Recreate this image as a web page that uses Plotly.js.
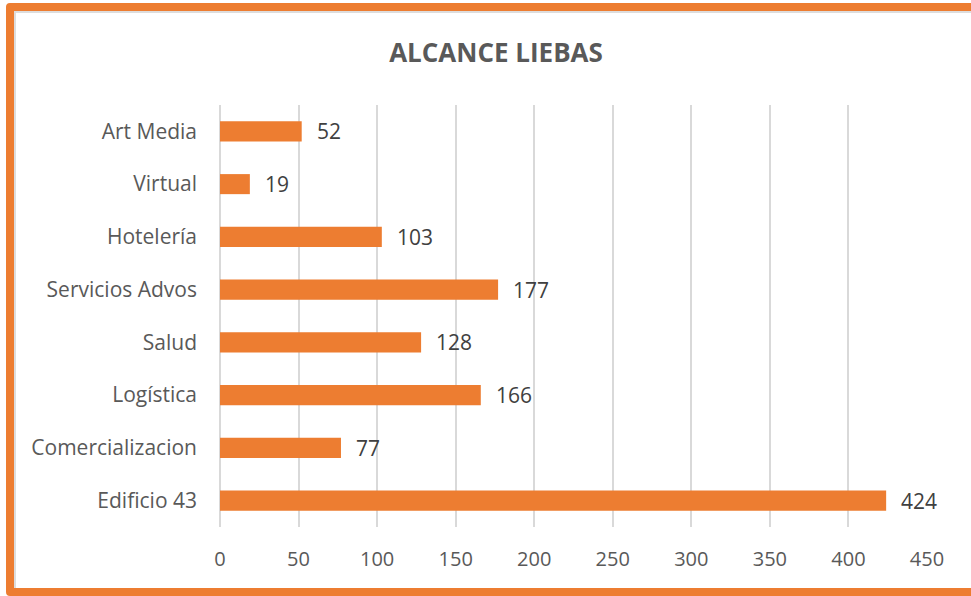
<!DOCTYPE html>
<html>
<head>
<meta charset="utf-8">
<script src="https://cdn.plot.ly/plotly-3.0.1.min.js"></script>
<style>
  html, body { margin: 0; padding: 0; background: #fff; overflow: hidden; }
  #chart { position: absolute; left: 0; top: 0; width: 971px; height: 596px; }
  #frame { position: absolute; left: 6px; top: 3px; width: 990px; height: 577px;
           border: 8px solid #ED7D31; border-radius: 4px; pointer-events: none; }
  #inner { position: absolute; left: 14px; top: 11px; width: 980px; height: 575px;
           border: 2px solid #DDDDDD; pointer-events: none; }
</style>
</head>
<body>
<div id="chart"></div>
<div id="inner"></div>
<div id="frame"></div>
<script>
const categories = ["Edificio 43", "Comercializacion", "Logística", "Salud", "Servicios Advos", "Hotelería", "Virtual", "Art Media"];
const values = [424, 77, 166, 128, 177, 103, 19, 52];
const xTicks = [0, 50, 100, 150, 200, 250, 300, 350, 400, 450];

const FONT = 'Open Sans, sans-serif';

const trace = {
  type: 'bar',
  orientation: 'h',
  x: values,
  y: categories,
  marker: { color: '#ED7D31' },
  hoverinfo: 'x+y'
};

const annotations = values.map((v, i) => ({
  x: v, y: categories[i], xref: 'x', yref: 'y',
  text: String(v), showarrow: false, xanchor: 'left', xshift: 13,
  font: { family: FONT, size: 21, color: '#404040' }
}));

const layout = {
  width: 971, height: 596,
  margin: { l: 220, r: 44, t: 105, b: 69 },
  paper_bgcolor: 'rgba(0,0,0,0)',
  plot_bgcolor: 'rgba(0,0,0,0)',
  bargap: 0.62,
  showlegend: false,
  title: {
    text: '<b>ALCANCE LIEBAS</b>',
    x: 496 / 971, xref: 'container', xanchor: 'center',
    y: 1 - 53 / 596, yref: 'container', yanchor: 'middle',
    font: { family: FONT, size: 26, color: '#595959' }
  },
  xaxis: {
    range: [0, 450],
    tickvals: xTicks,
    ticktext: xTicks.map(String),
    showgrid: true, gridcolor: '#D9D9D9', gridwidth: 2,
    zeroline: true, zerolinecolor: '#D9D9D9', zerolinewidth: 2,
    showline: false,
    ticks: '', ticklabelstandoff: 18,
    tickfont: { family: FONT, size: 20, color: '#595959' },
    fixedrange: true
  },
  yaxis: {
    categoryorder: 'array', categoryarray: categories,
    showgrid: false, zeroline: false, showline: false,
    ticks: '', ticklabelstandoff: 22,
    tickfont: { family: FONT, size: 21, color: '#595959' },
    fixedrange: true
  },
  annotations: annotations
};

Plotly.newPlot('chart', [trace], layout, { displayModeBar: false, staticPlot: true });
</script>
</body>
</html>
